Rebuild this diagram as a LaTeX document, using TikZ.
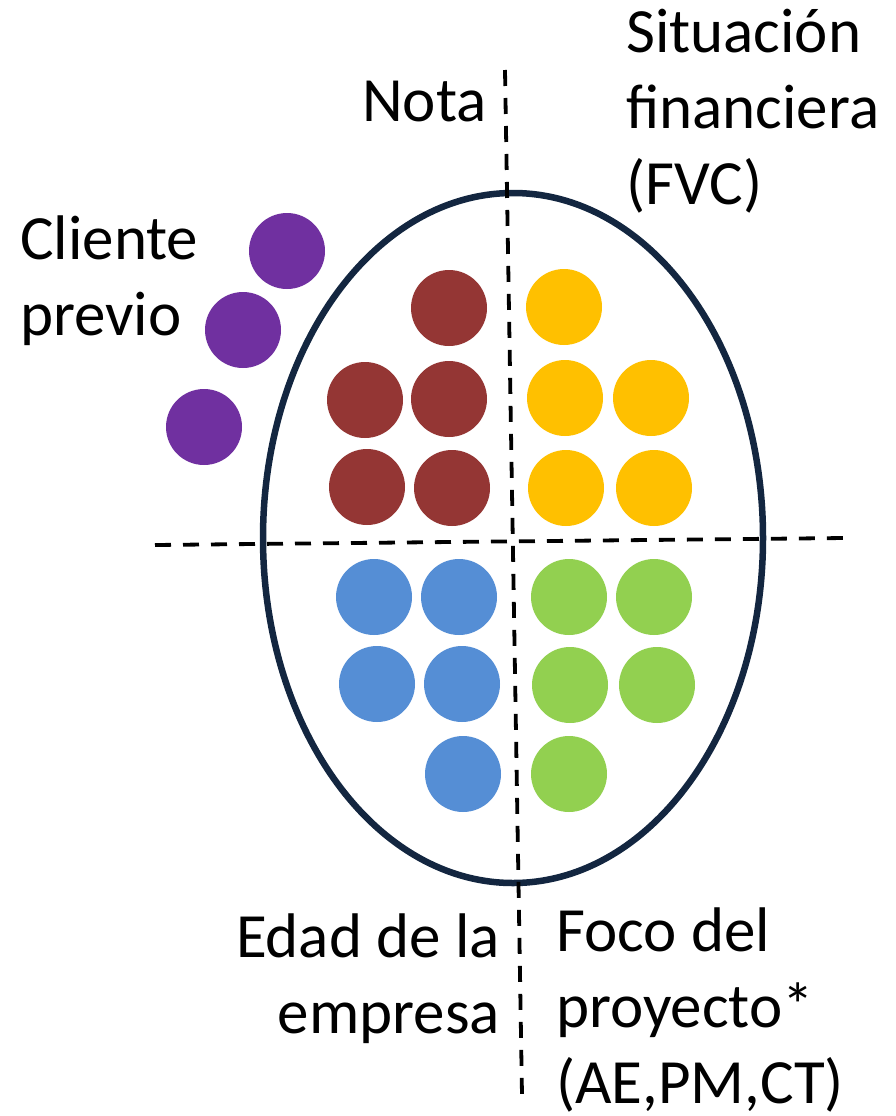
\documentclass[tikz,border=0pt]{standalone}
\usepackage{fontspec}
\setmainfont{Carlito}
\usetikzlibrary{shapes.geometric}
\definecolor{navy}{HTML}{132640}
\definecolor{cpurple}{HTML}{7030A0}
\definecolor{cbrown}{HTML}{943634}
\definecolor{cyellow}{HTML}{FFC000}
\definecolor{cblue}{HTML}{558ED5}
\definecolor{cgreen}{HTML}{92D050}
\begin{document}
\begin{tikzpicture}[x=1pt,y=-1pt,
  dot/.style={circle,minimum size=76pt,inner sep=0pt,fill=#1},
  divider/.style={line width=3.8pt,dash pattern=on 16pt off 12pt},
  lbl/.style={inner sep=0pt,font=\fontsize{63}{76}\selectfont}]
\useasboundingbox (0,0) rectangle (896,1116);
\node[draw=navy,line width=6.5pt,ellipse,minimum width=500pt,minimum height=690pt,inner sep=0pt] (ell) at (513,538) {};
\coordinate (vt) at (505,70);
\coordinate (vb) at (522,1095);
\coordinate (hl) at (155,545);
\coordinate (hr) at (845,538);
\draw[divider] (vt) -- (vb);
\draw[divider] (hl) -- (hr);
% purple
\node[dot=cpurple] (p1) at (287,251) {};
\node[dot=cpurple] (p2) at (243,330) {};
\node[dot=cpurple] (p3) at (204,427) {};
% brown
\node[dot=cbrown] (b1) at (449,308) {};
\node[dot=cbrown] (b2) at (365,400) {};
\node[dot=cbrown] (b3) at (449,399) {};
\node[dot=cbrown] (b4) at (367,487) {};
\node[dot=cbrown] (b5) at (452,488) {};
% yellow
\node[dot=cyellow] (y1) at (564,307) {};
\node[dot=cyellow] (y2) at (565,398) {};
\node[dot=cyellow] (y3) at (651,398) {};
\node[dot=cyellow] (y4) at (566,488) {};
\node[dot=cyellow] (y5) at (654,488) {};
% blue
\node[dot=cblue] (u1) at (374,597) {};
\node[dot=cblue] (u2) at (459,597) {};
\node[dot=cblue] (u3) at (377,684) {};
\node[dot=cblue] (u4) at (462,684) {};
\node[dot=cblue] (u5) at (463,774) {};
% green
\node[dot=cgreen] (g1) at (569,597) {};
\node[dot=cgreen] (g2) at (654,597) {};
\node[dot=cgreen] (g3) at (570,685) {};
\node[dot=cgreen] (g4) at (657,685) {};
\node[dot=cgreen] (g5) at (569,774) {};
% labels (base anchor = baseline of last line)
\node[lbl,anchor=base west] (nota) at (362,121) {Nota};
\node[lbl,anchor=base west,align=left] (sit) at (626,204) {Situación\\financiera\\(FVC)};
\node[lbl,anchor=base west,align=left] (cli) at (20,335) {Cliente\\previo};
\node[lbl,anchor=base east,align=right] (edad) at (500,1033) {Edad de la\\empresa};
\node[lbl,anchor=base west,align=left,text depth=0pt] (foco) at (556,1103) {Foco del\\proyecto*\\(AE,PM,CT)};
\end{tikzpicture}
\end{document}
